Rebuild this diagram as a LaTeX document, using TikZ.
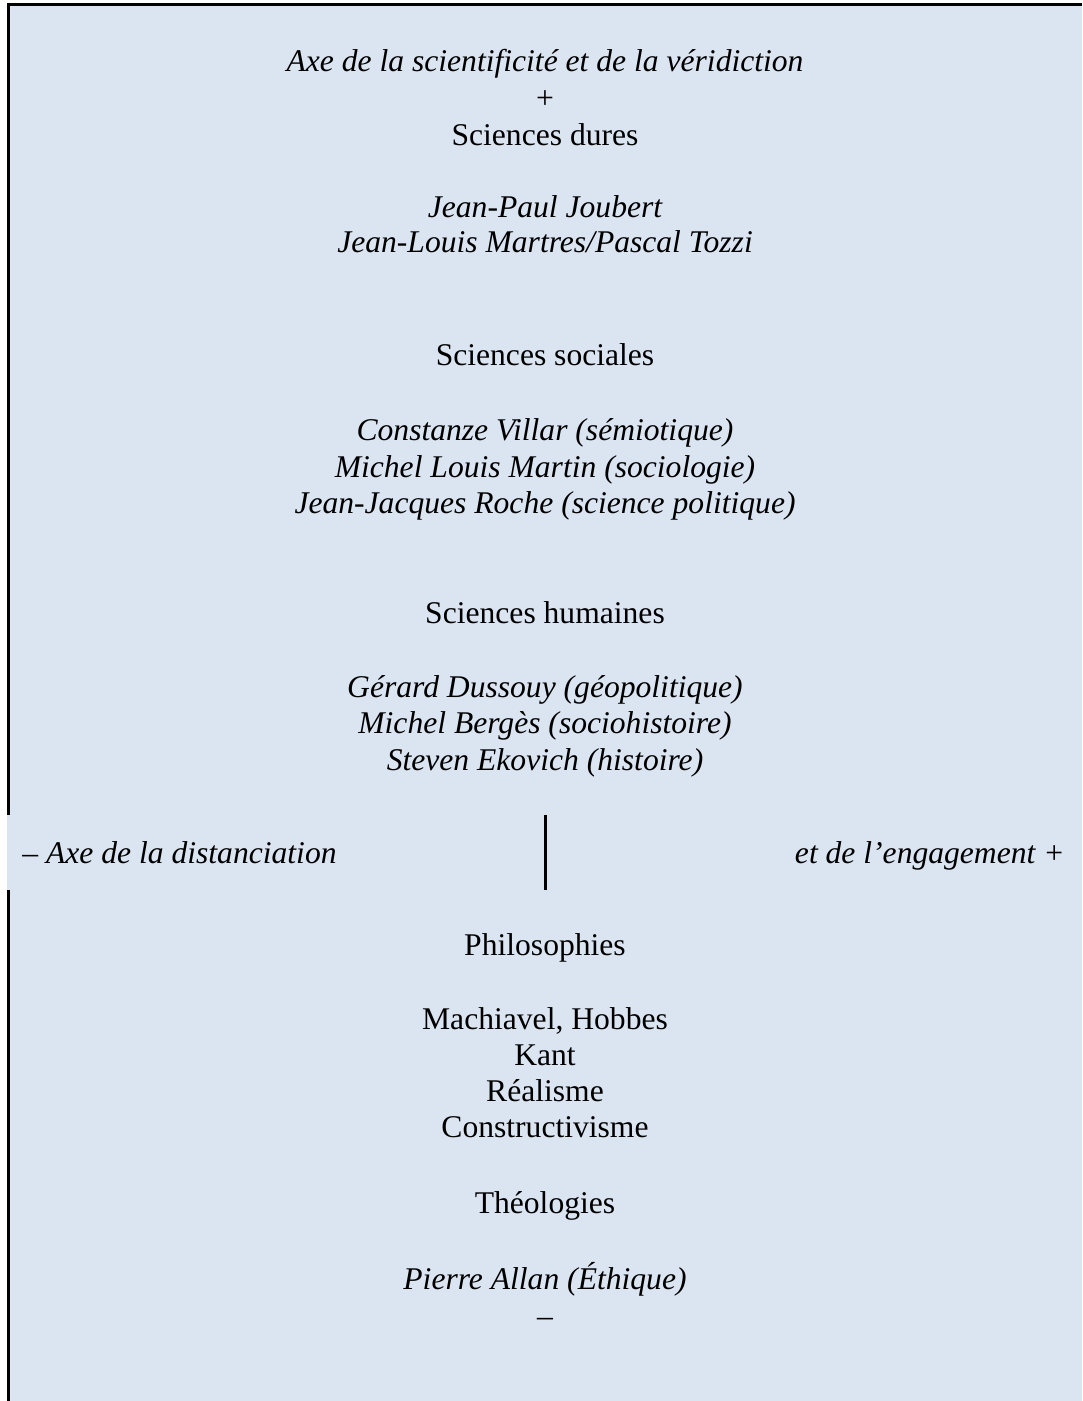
\documentclass[tikz,border=0pt]{standalone}
\usepackage{fontspec}
\setmainfont{Liberation Serif}
\definecolor{fond}{HTML}{DBE5F1}

\begin{document}
\begin{tikzpicture}[x=0.5pt,y=-0.5pt,
	every node/.style={anchor=base,inner sep=0pt,font=\fontsize{15.8}{18}\selectfont},
	nom/.style={font=\fontsize{15.8}{18}\selectfont\itshape},
	trait/.style={line width=1.4pt}]

\useasboundingbox (0,0) rectangle (1082,1401);
\fill[fond] (10,4) rectangle (1082,1401);
\fill[fond] (7,815) rectangle (1082,890);

\draw[trait] (7,4.5) -- (1082,4.5);
\draw[trait] (8.5,3.8) -- (8.5,815);
\draw[trait] (8.5,890) -- (8.5,1401);
\draw[trait] (545.5,815) -- (545.5,890);

\node[nom]   (axe)      at (545,72)    {Axe de la scientificité et de la véridiction};
	\node    (plus)     at (545,109)   {+};
	\node    (dures)    at (545,146)   {Sciences dures};
	\node[nom]   (joubert)  at (545,218)   {Jean-Paul Joubert};
	\node[nom]   (martres)  at (545,253)   {Jean-Louis Martres/Pascal Tozzi};

	\node    (sociales) at (545,365)   {Sciences sociales};
	\node[nom]   (villar)   at (545,440)   {Constanze Villar (sémiotique)};
	\node[nom]   (martin)   at (545,477)   {Michel Louis Martin (sociologie)};
	\node[nom]   (roche)    at (545,513)   {Jean-Jacques Roche (science politique)};

	\node    (humaines) at (545,623)   {Sciences humaines};
	\node[nom]   (dussouy)  at (545,697)   {Gérard Dussouy (géopolitique)};
	\node[nom]   (berges)   at (545,733)   {Michel Bergès (sociohistoire)};
	\node[nom]   (ekovich)  at (545,770)   {Steven Ekovich (histoire)};

	\node[nom,anchor=base west]  (distance) at (22,863)   {– Axe de la distanciation};
	\node[nom,anchor=base east]  (engage)   at (1065,863) {et de l’engagement +};

	\node    (philo)    at (545,955)   {Philosophies};
	\node    (machia)   at (545,1029)  {Machiavel, Hobbes};
	\node    (kant)     at (545,1065)  {Kant};
	\node    (realisme) at (545,1101)  {Réalisme};
	\node    (construct) at (545,1137) {Constructivisme};

	\node    (theo)     at (545,1213)  {Théologies};
	\node[nom]   (allan)    at (545,1289)  {Pierre Allan (Éthique)};
	\node    (moins)    at (545,1326)  {–};

\end{tikzpicture}
\end{document}
